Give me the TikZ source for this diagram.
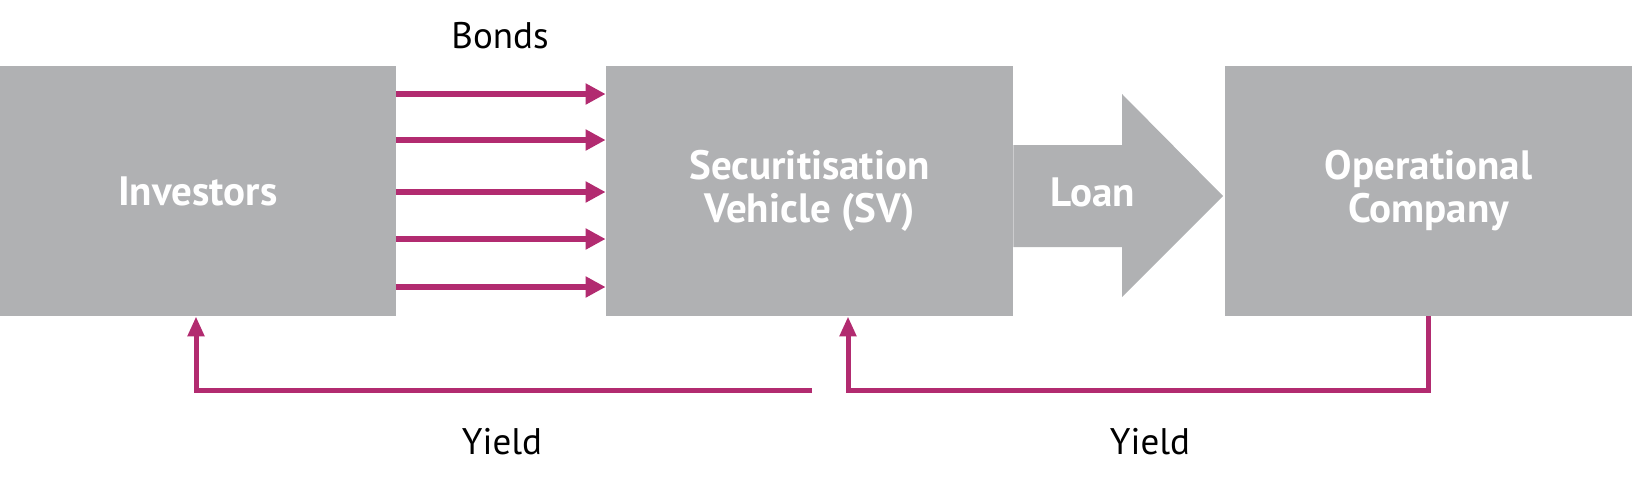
\documentclass[tikz,border=0pt]{standalone}
\usepackage{fontspec}
\setmainfont{PT Sans}
\usepackage{tikz}
\usetikzlibrary{arrows.meta}

\definecolor{boxgray}{RGB}{176,177,179}
\definecolor{flowred}{RGB}{178,43,112}

\tikzset{
  party/.style={fill=boxgray,text=white,align=center,inner sep=0pt,
    minimum width=203.5pt,minimum height=125pt,
    font=\bfseries\fontsize{20.5}{21.5}\selectfont},
  bondline/.style={flowred,line width=3pt,-{Triangle[length=10pt,width=10pt]}},
  yieldline/.style={flowred,line width=2.5pt,-{Triangle[length=10pt,width=8pt]}},
  lab/.style={font=\fontsize{18.5}{20}\selectfont}
}

\begin{document}
\begin{tikzpicture}[x=0.5pt,y=-0.5pt,line cap=butt]
  \useasboundingbox (0,0) rectangle (1632,488);

  % ---------------- the three parties ----------------
  \node[party,minimum width=197.75pt] (inv) at (197.75,191) {Investors};
  \node[party] (sv)   at (809.5,191)  {Securitisation\\Vehicle (SV)};
  \node[party] (opco) at (1428.5,191) {Operational\\Company};

  % ---------------- loan: block arrow SV -> company ----------------
  \fill[boxgray] (sv.east |- 0,145) -- (1122,145) -- (1122,94) -- (1223,196)
    -- (1122,297) -- (1122,247) -- (sv.east |- 0,247) -- cycle;
  \node[font=\bfseries\fontsize{20.5}{21.5}\selectfont,text=white] (loan) at (1093,192) {Loan};

  % ---------------- bonds: investors -> SV ----------------
  \foreach \y in {94,140,192,239,287}
    \draw[bondline] (inv.east |- 0,\y) -- (sv.west |- 0,\y);
  \node[lab] (bonds) at (500,36) {Bonds};

  % ---------------- yield flows back ----------------
  \coordinate (yl) at (812,390);
  \coordinate (yr) at (848,390);
  \draw[yieldline] (yl) -| (inv.south -| 196,0);
  \draw[yieldline] (opco.south -| 1428,0) |- (yr) -- (yr |- sv.south);
  \node[lab] (yieldl) at (502,442) {Yield};
  \node[lab] (yieldr) at (1150,442) {Yield};
\end{tikzpicture}
\end{document}
